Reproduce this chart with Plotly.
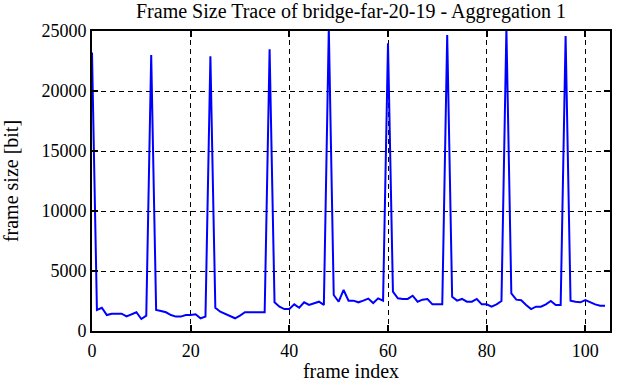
import plotly.graph_objects as go

frame_size = [
    23200, 1750, 1940, 1330, 1440, 1440, 1440, 1220, 1400, 1560, 1000, 1280,
    23000, 1750, 1670, 1560, 1330, 1200, 1200, 1330, 1330, 1390, 1060, 1200,
    22900, 1940, 1610, 1440, 1280, 1060, 1280, 1560, 1560, 1560, 1560, 1560,
    23470, 2390, 2030, 1830, 1830, 2220, 1940, 2390, 2170, 2280, 2440, 2170,
    25200, 3000, 2440, 3420, 2530, 2530, 2390, 2530, 2700, 2330, 2720, 2530,
    23970, 3280, 2720, 2670, 2670, 2940, 2440, 2610, 2670, 2220, 2220, 2220,
    24670, 2860, 2530, 2670, 2440, 2440, 2670, 2220, 2220, 2030, 2220, 2500,
    25200, 3140, 2610, 2560, 2170, 1830, 2030, 2030, 2220, 2500, 2170, 2170,
    24580, 2530, 2440, 2390, 2580, 2390, 2220, 2110, 2110,
]
frame_index = list(range(len(frame_size)))

x_ticks = [0, 20, 40, 60, 80, 100]
x_tick_labels = ["0", "20", "40", "60", "80", "100"]
y_ticks = [0, 5000, 10000, 15000, 20000, 25000]
y_tick_labels = ["0", "5000", "10000", "15000", "20000", "25000"]

FONT = "Liberation Serif, Times New Roman, serif"

fig = go.Figure(
    go.Scatter(
        x=frame_index,
        y=frame_size,
        mode="lines",
        line=dict(color="#0000ff", width=2),
        showlegend=False,
    )
)

axis_common = dict(
    showline=True,
    linecolor="black",
    linewidth=2,
    mirror="ticks",
    ticks="inside",
    ticklen=6,
    tickwidth=1.5,
    tickcolor="black",
    showgrid=True,
    gridcolor="black",
    gridwidth=1,
    griddash="5px,4px",
    zeroline=False,
    automargin=False,
    tickfont=dict(family=FONT, size=18, color="black"),
)

fig.update_layout(
    width=617,
    height=382,
    font=dict(family=FONT, color="black"),
    margin=dict(l=92, r=7, t=31, b=51, autoexpand=False),
    paper_bgcolor="white",
    plot_bgcolor="white",
    title=dict(
        text="Frame Size Trace of bridge-far-20-19 - Aggregation 1",
        font=dict(family=FONT, size=20, color="black"),
        xref="paper",
        x=0.5,
        xanchor="center",
        yref="container",
        y=1,
        yanchor="top",
        pad=dict(t=4, b=0),
    ),
    xaxis=dict(
        range=[0, 105],
        tickvals=x_ticks,
        ticktext=x_tick_labels,
        ticklabelstandoff=2,
        title=dict(text="frame index", font=dict(family=FONT, size=20, color="black"), standoff=5),
        **axis_common,
    ),
    yaxis=dict(
        range=[0, 25000],
        tickvals=y_ticks,
        ticktext=y_tick_labels,
        title=dict(text="frame size [bit]", font=dict(family=FONT, size=20, color="black"), standoff=18),
        **axis_common,
    ),
)

fig.write_html(
    "out.html",
    config={"displayModeBar": False},
    post_script="document.body.style.margin='0';document.body.style.overflow='hidden';",
)
